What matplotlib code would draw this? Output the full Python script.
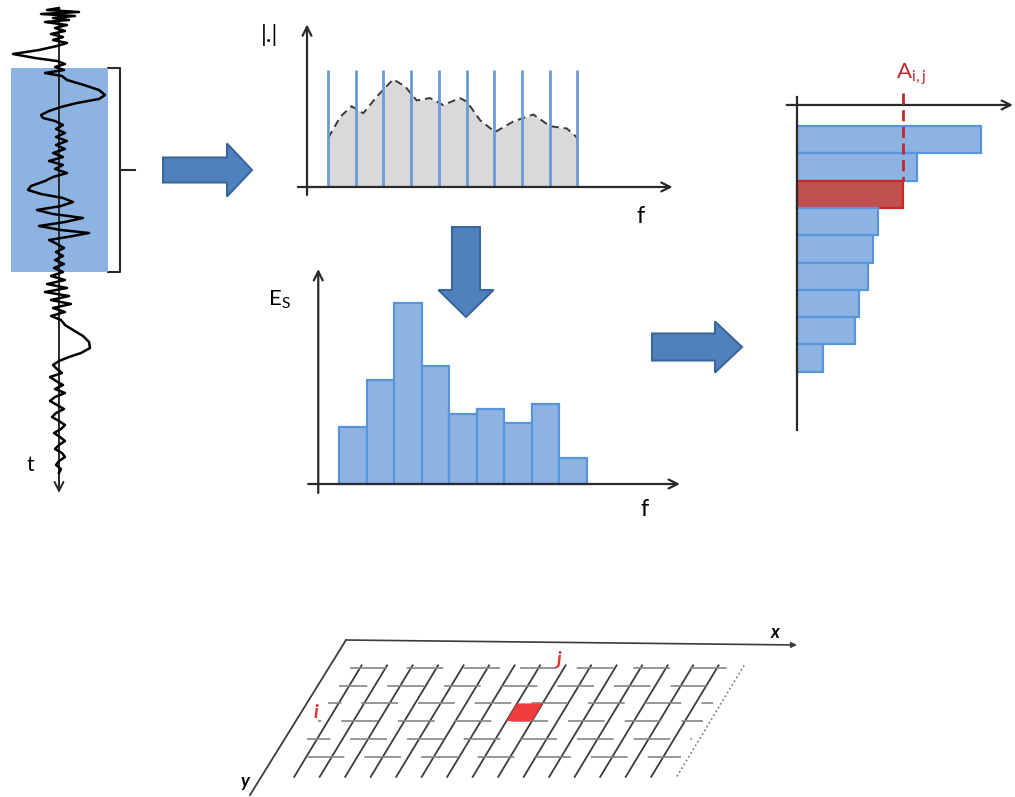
import numpy as np
import matplotlib
matplotlib.use("Agg")
import matplotlib.pyplot as plt
from matplotlib import patches
from matplotlib.transforms import Affine2D

plt.rcParams['font.family'] = ['Lato', 'DejaVu Sans']

W, H = 1015, 797

# ---- data ----
# seismic trace: time sample (px down the t axis) and amplitude (px off the axis)
sig_t = [8, 10, 12, 14, 16, 18, 20, 22, 25, 28, 31, 34, 37, 40, 43, 46, 50, 54, 58, 61,
         64, 67, 70, 73, 76, 80, 85, 90, 95, 99, 103, 107, 111, 115, 118, 121, 125, 129, 133, 137,
         141, 145, 149, 153, 157, 161, 165, 169, 173, 177, 181, 186, 190, 194, 198, 202, 206, 210, 214, 218,
         222, 226, 230, 233, 236, 240, 244, 248, 252, 256, 260, 264, 268, 272, 276, 280, 284, 288, 292, 296,
         300, 304, 308, 312, 316, 320, 325, 330, 336, 342, 348, 353, 357, 361, 365, 369, 373, 377, 381, 385,
         389, 393, 397, 401, 405, 409, 413, 417, 421, 425, 429, 433, 437, 441, 445, 449, 453, 457, 461, 465,
         469, 473]
sig_amp = [0, -12, 20, -18, 16, -6, 10, -14, 8, -4, 6, -8, 4, -6, 8, -2, -20, -46, -24, -2,
           6, -4, 5, -14, 3, 8, 25, 40, 46, 40, 18, 2, -10, -18, -16, -4, 4, -3, 6, -3,
           8, -3, 6, -6, 4, -10, 4, -4, 8, -6, -14, -28, -31, -18, 4, 14, 2, -22, -6, 24,
           6, -20, 2, 30, 14, -10, -2, 5, -3, 4, -4, 5, -5, 4, -8, 6, -12, 8, -14, 10,
           -8, 12, -6, 6, -8, 2, 6, 14, 24, 30, 31, 22, 10, 0, -6, -2, 3, -9, -3, 4,
           -4, 6, -4, -9, -2, 5, -3, -7, 0, 6, 2, -5, 1, 6, 0, -4, 3, 6, 0, -3,
           2, 0]
window_t = (68, 272)

# amplitude spectrum |.| (frequency in bin units, relative amplitude)
spec_f = [0.77, 1.2, 1.61, 2.03, 2.51, 3.11, 3.54, 3.96, 4.44, 4.92, 5.52, 5.77, 6.25, 6.79,
          7.45, 8.17, 8.77, 9.38, 9.76]
spec_a = [0.42, 0.60, 0.69, 0.63, 0.77, 0.92, 0.86, 0.74, 0.76, 0.70, 0.76, 0.73, 0.57, 0.47,
          0.56, 0.62, 0.52, 0.50, 0.42]
bin_edges = [0.76, 1.76, 2.76, 3.76, 4.76, 5.76, 6.76, 7.76, 8.76, 9.76]

# band energies E_S
es_values = [5.7, 10.4, 18.1, 11.8, 7.0, 7.5, 6.1, 8.0, 2.6]
es_sorted = sorted(es_values, reverse=True)
sel_rank = 2  # A_i,j

# spatial grid: selected cell (column, row)
grid_cols = 15
grid_rows = 6
sel_cell = (7, 2)

# ---- colours ----
bar_face = '#8db3e2'
bar_edge = '#5a94da'
arrow_face = '#4f81bd'
arrow_edge = '#3b6699'
axis_col = '#2a2a2a'

fig = plt.figure(figsize=(W / 100, H / 100), dpi=100)

bg = fig.add_axes([0, 0, 1, 1])
bg.set_xlim(0, W)
bg.set_ylim(H, 0)
bg.axis('off')


def panel(x0, y0, x1, y1):
    ax = fig.add_axes([x0 / W, 1 - y1 / H, (x1 - x0) / W, (y1 - y0) / H])
    ax.axis('off')
    ax.patch.set_alpha(0)
    return ax


def axis_arrow(ax, start, end, lw=1.6):
    ax.annotate('', xy=end, xytext=start,
                arrowprops=dict(arrowstyle='->', lw=lw, color=axis_col,
                                shrinkA=0, shrinkB=0, mutation_scale=16))


# block arrows
for x, y, dx, dy, w, hw, hl in [(163, 170, 89, 0, 25, 53, 25),
                                (466, 227, 0, 90, 28, 55, 27),
                                (652, 347, 90, 0, 27, 51, 27)]:
    bg.add_patch(patches.FancyArrow(x, y, dx, dy, width=w, head_width=hw, head_length=hl,
                                    length_includes_head=True, fc=arrow_face, ec=arrow_edge, lw=1.5))

# ---- trace panel ----
ax_s = panel(0, 0, 180, 500)
ax_s.set_xlim(-59, 121)
ax_s.set_ylim(500, 0)
ax_s.add_patch(patches.Rectangle((-48, window_t[0]), 97, window_t[1] - window_t[0],
                                 fc=bar_face, ec='none', zorder=1))
axis_arrow(ax_s, (0, 8), (0, 493), lw=1.4)
ax_s.plot(sig_amp, sig_t, color='black', lw=1.8, zorder=3, solid_joinstyle='round')
ax_s.text(-29, 465, 't', fontsize=15, ha='center', va='center')
# bracket
bg.plot([108, 120, 120, 108], [window_t[0], window_t[0], window_t[1], window_t[1]],
        color=axis_col, lw=1.5)
bg.plot([120, 135], [170, 170], color=axis_col, lw=1.5)

# ---- spectrum panel ----
ax_f = panel(290, 15, 680, 205)
ax_f.set_xlim(-0.614, 13.466)
ax_f.set_ylim(-0.154, 1.470)
ax_f.fill_between(spec_f, spec_a, color='#d9d9d9', lw=0, zorder=1)
ax_f.plot(spec_f, spec_a, color='#3a3a3a', lw=1.4, ls=(0, (4, 2.5)), zorder=2)
ax_f.vlines(bin_edges, 0, 1.0, color='#6a9ad8', lw=2, zorder=3)
axis_arrow(ax_f, (0, -0.068), (0, 1.39))
axis_arrow(ax_f, (-0.33, 0), (13.2, 0))
ax_f.text(-1.35, 1.30, '|.|', fontsize=17, ha='center', va='center')
ax_f.text(12.05, -0.25, 'f', fontsize=17, ha='center', va='center')

# ---- band energy histogram ----
ax_e = panel(300, 260, 690, 520)
ax_e.set_xlim((300 - 352.75) / 27.5, (690 - 352.75) / 27.5)
ax_e.set_ylim(-3.6, 22.4)
ax_e.bar(np.arange(len(es_values)), es_values, width=1.0, color=bar_face,
         edgecolor=bar_edge, lw=1.6, zorder=2)
axis_arrow(ax_e, (-1.254, -0.9), (-1.254, 21.5))
axis_arrow(ax_e, (-1.62, 0), (11.9, 0))
ax_e.text(-2.65, 18.4, r'E$_\mathregular{S}$', fontsize=16, ha='center', va='center')
ax_e.text(10.6, -2.6, 'f', fontsize=17, ha='center', va='center')

# ---- ranked energies ----
ax_r = panel(785, 50, 1015, 435)
ax_r.set_xlim(-1.147, 21.4)
ax_r.set_ylim((435 - 139.65) / 27.3, (50 - 139.65) / 27.3)
cols = [bar_face] * len(es_sorted)
edges = [bar_edge] * len(es_sorted)
cols[sel_rank] = '#c0504d'
edges[sel_rank] = '#c62828'
ax_r.barh(np.arange(len(es_sorted)), es_sorted, height=1.0, color=cols,
          edgecolor=edges, lw=1.6, zorder=2)
axis_arrow(ax_r, (-0.98, -1.27), (21.2, -1.27))
ax_r.plot([0, 0], [-1.56, 10.63], color=axis_col, lw=1.6, zorder=3)
ax_r.plot([es_sorted[sel_rank]] * 2, [-1.7, sel_rank - 0.5], color='#c0282d',
          lw=2, ls=(0, (4, 2)), zorder=3)
ax_r.text(es_sorted[sel_rank] + 0.8, -2.4, r'A$_\mathregular{i,j}$', fontsize=16,
          color='#c0282d', ha='center', va='center')

# ---- spatial grid ----
grid_tr = Affine2D(np.array([[25.5, -10.7, 360.0], [0, 17.7, 668.0], [0, 0, 1]])) + bg.transData
for c in range(grid_cols):
    bg.plot([c, c], [-0.15, 6.15], color='#3c3c3c', lw=1.3, transform=grid_tr)
bg.plot([grid_cols, grid_cols], [-0.15, 6.15], color='#777777', lw=1.2, ls=':', transform=grid_tr)
row_offsets = [0, 5, 14, 20, 8, 27]
for r in range(grid_rows):
    bg.plot([-0.4, grid_cols - 0.3], [r, r], color='#858585', lw=1.2,
            ls=(row_offsets[r], (22, 12)), transform=grid_tr)
c, r = sel_cell
bg.add_patch(patches.Polygon([(c, r), (c + 1, r), (c + 1, r + 1), (c, r + 1)], closed=True,
                             fc='#f03c3c', ec='none', transform=grid_tr, zorder=3))
bg.plot([346, 250], [640, 795], color='#3c3c3c', lw=1.3)
bg.annotate('', xy=(797, 645), xytext=(346, 640),
            arrowprops=dict(arrowstyle='-|>', lw=1.2, color='#3c3c3c', shrinkA=0, shrinkB=0,
                            mutation_scale=8))
bg.text(775, 633, 'x', fontsize=13, style='italic', weight='bold', ha='center', va='center')
bg.text(245, 781, 'y', fontsize=13, style='italic', weight='bold', ha='center', va='center')
bg.text(316, 713, 'i', fontsize=14, style='italic', weight='bold', color='#e03030',
        ha='center', va='center')
bg.text(559, 659, 'j', fontsize=14, style='italic', weight='bold', color='#e03030',
        ha='center', va='center')

fig.savefig('out.png', dpi=100)
